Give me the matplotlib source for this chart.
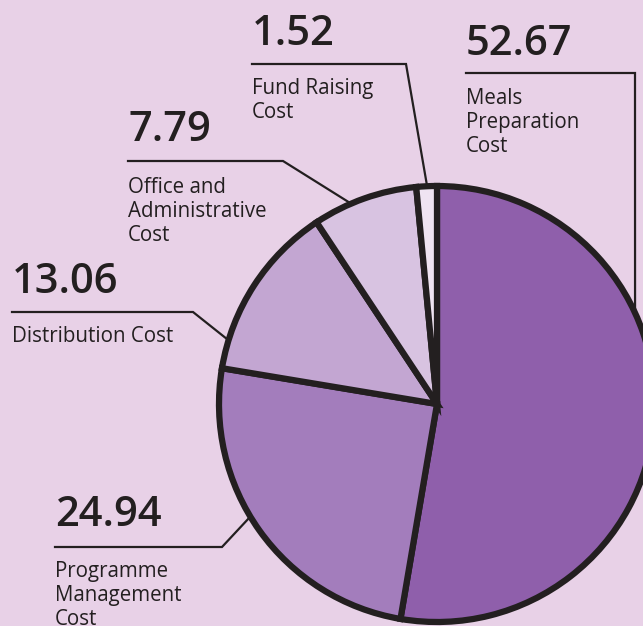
import numpy as np
import matplotlib
matplotlib.use("Agg")
import matplotlib.pyplot as plt

categories = ["Meals Preparation Cost", "Programme Management Cost", "Distribution Cost",
              "Office and Administrative Cost", "Fund Raising Cost"]
values = [52.67, 24.94, 13.06, 7.79, 1.52]
value_labels = ["52.67", "24.94", "13.06", "7.79", "1.52"]
label_lines = [["Meals", "Preparation", "Cost"],
               ["Programme", "Management", "Cost"],
               ["Distribution Cost"],
               ["Office and", "Administrative", "Cost"],
               ["Fund Raising", "Cost"]]
colors = ["#8F5FAB", "#A37DBC", "#C3A6D2", "#D8C3E1", "#EFE4F2"]

BG = "#E8D1E7"
INK = "#231F20"
W, H = 643, 626

# layout (pixel coords, y from top): text x, number baseline, first label baseline,
# horizontal rule (x0, x1, y), angle on pie where leader ends
text_x = [466, 55, 12, 128, 252]
num_base = [55, 526, 293, 141, 45]
lab_base = [104, 577, 342, 193, 94]
rule = [(466, 635, 73), (55, 222, 547), (12, 193, 312), (128, 283, 161), (252, 406, 64)]
end_deg = [24.7, 211.1, 163.0, 113.2, 92.6]

cx, cy, r = 437, 404, 218

fig = plt.figure(figsize=(W / 100, H / 100), dpi=100, facecolor=BG)
ax = fig.add_axes([0, 0, 1, 1])
ax.set_facecolor(BG)

ax.pie(values, colors=colors, startangle=90, counterclock=False,
       center=(cx, H - cy), radius=r,
       wedgeprops=dict(edgecolor=INK, linewidth=4.5, joinstyle="miter"))
ax.set_xlim(0, W)
ax.set_ylim(0, H)
ax.set_aspect("equal")
ax.axis("off")

for i in range(len(values)):
    x0, x1, yr = rule[i]
    a = np.deg2rad(end_deg[i])
    ex = cx + r * np.cos(a)
    ey = cy - r * np.sin(a)
    ax.plot([x0, x1, ex], [H - yr, H - yr, H - ey], color=INK, lw=1.6,
            solid_joinstyle="miter", zorder=0)
    ax.text(text_x[i], H - num_base[i], value_labels[i], fontsize=30,
            fontfamily="Open Sans", fontweight="semibold", color=INK,
            va="baseline", ha="left")
    for j, line in enumerate(label_lines[i]):
        ax.text(text_x[i], H - (lab_base[i] + 24 * j), line, fontsize=14.8,
                fontfamily="Open Sans", color=INK, va="baseline", ha="left")

fig.savefig("out.png", dpi=100, facecolor=BG)
